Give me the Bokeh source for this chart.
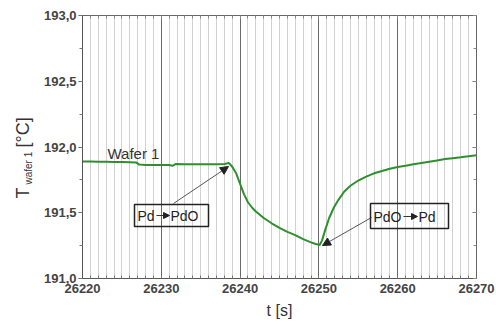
import math
from bokeh.plotting import figure
from bokeh.models import (SingleIntervalTicker, CustomJSTickFormatter, LinearAxis,
                          Label, Arrow, NormalHead, BoxAnnotation)
from bokeh.embed import file_html
from bokeh.resources import INLINE

# ---- data ----
t_s = [26220, 26221, 26222, 26223, 26224, 26225, 26226, 26226.8, 26227.2, 26228,
       26229, 26230, 26231, 26231.4, 26231.8, 26233, 26235, 26237, 26238, 26238.6,
       26239.0, 26239.5, 26240, 26240.5, 26241, 26241.5, 26242, 26243, 26244, 26245,
       26246, 26247, 26248, 26249, 26249.6, 26250.1, 26250.4, 26250.8, 26251.3, 26251.9,
       26252.5, 26253.2, 26254, 26255, 26256, 26257, 26258, 26259, 26260, 26261,
       26262, 26263, 26264, 26265, 26266, 26267, 26268, 26269, 26270]
T_wafer1 = [191.890, 191.890, 191.888, 191.888, 191.886, 191.885, 191.884, 191.883, 191.866, 191.864,
            191.864, 191.864, 191.863, 191.857, 191.870, 191.868, 191.868, 191.868, 191.870, 191.878,
            191.850, 191.800, 191.720, 191.640, 191.580, 191.540, 191.510, 191.460, 191.420, 191.385,
            191.355, 191.330, 191.300, 191.275, 191.262, 191.255, 191.290, 191.370, 191.460, 191.540,
            191.600, 191.660, 191.705, 191.745, 191.775, 191.800, 191.818, 191.835, 191.848, 191.858,
            191.868, 191.878, 191.888, 191.898, 191.908, 191.915, 191.922, 191.930, 191.937]

X0, X1 = 26220, 26270
Y0, Y1 = 191.0, 193.0

# frame geometry (pixels)
FL, FR, FT, FB = 82, 476, 15, 278
def tx(px):
    return X0 + (px - FL) * (X1 - X0) / (FR - FL)
def ty(py):
    return Y0 + (FB - py) * (Y1 - Y0) / (FB - FT)

FONT = "Liberation Sans"
p = figure(width=496, height=327, x_range=(X0, X1), y_range=(Y0, Y1),
           output_backend="svg", toolbar_location=None,
           min_border_left=FL, min_border_right=496 - FR,
           min_border_top=FT, min_border_bottom=327 - FB)
p.outline_line_color = "#666666"
p.background_fill_color = "white"
p.border_fill_color = "white"

xt = SingleIntervalTicker(interval=10, num_minor_ticks=10)
yt = SingleIntervalTicker(interval=0.5, num_minor_ticks=2)
fmt = CustomJSTickFormatter(code="return tick.toFixed(0);")
yfmt = CustomJSTickFormatter(code="return tick.toFixed(1).replace('.', ',');")

xa = p.xaxis[0]
xa.ticker = xt
xa.formatter = fmt
ya = p.yaxis[0]
ya.ticker = yt
ya.formatter = yfmt

for ax in (xa, ya):
    ax.axis_line_color = "#555555"
    ax.major_tick_line_color = "#555555"
    ax.minor_tick_line_color = "#777777"
    ax.major_label_text_font = FONT
    ax.major_label_text_font_size = "13px"
    ax.major_label_text_font_style = "bold"
    ax.major_label_text_color = "#444444"

xa.major_tick_in = 4
xa.major_tick_out = 0
xa.minor_tick_in = 3
xa.minor_tick_out = 0
xa.major_label_standoff = 5
xa.axis_label = "t [s]"
xa.axis_label_text_font = FONT
xa.axis_label_text_font_size = "16px"
xa.axis_label_text_font_style = "normal"
xa.axis_label_text_color = "#333333"
xa.axis_label_standoff = 6

ya.major_tick_out = 4
ya.major_tick_in = 0
ya.minor_tick_out = 3
ya.minor_tick_in = 0
ya.major_label_standoff = 2

# mirrored axes (ticks only)
top = LinearAxis(ticker=xt, major_label_text_color=None, axis_line_color="#666666",
                 major_tick_in=4, major_tick_out=0, minor_tick_in=3, minor_tick_out=0,
                 major_tick_line_color="#777777", minor_tick_line_color="#888888",
                 major_label_text_font_size="1px", major_label_standoff=0)
right = LinearAxis(ticker=yt, major_label_text_color=None, axis_line_color="#666666",
                   major_tick_in=4, major_tick_out=0, minor_tick_in=3, minor_tick_out=0,
                   major_tick_line_color="#777777", minor_tick_line_color="#888888",
                   major_label_text_font_size="1px", major_label_standoff=0)
p.add_layout(top, "above")
p.add_layout(right, "right")

p.xgrid.ticker = xt
p.xgrid.grid_line_color = "#6a6a6a"
p.xgrid.grid_line_width = 1
p.xgrid.minor_grid_line_color = "#d2d2d2"
p.xgrid.minor_grid_line_width = 1
p.ygrid.grid_line_color = None

# curve
p.line(t_s, T_wafer1, line_color="#2f8f2f", line_width=2)

# y-axis label: T_wafer 1 [°C], drawn in two side panels left of the y axis
NB = "\u00a0" * 8
p.add_layout(Label(x=-1.5, y=FB - 184, x_units="screen", y_units="screen",
                   text="wafer 1", angle=math.pi / 2,
                   text_font=FONT, text_font_size="10px", text_color="#333333",
                   text_align="left", text_baseline="alphabetic"), "left")
p.add_layout(Label(x=13, y=FB - 198, x_units="screen", y_units="screen",
                   text="T" + NB + "[°C]", angle=math.pi / 2,
                   text_font=FONT, text_font_size="18px", text_color="#333333",
                   text_align="left", text_baseline="alphabetic"), "left")

# "Wafer 1"
p.add_layout(Label(x=tx(107), y=ty(153), text="Wafer 1", text_font=FONT,
                   text_font_size="15px", text_color="#333333",
                   text_align="left", text_baseline="alphabetic"))

BOX = dict(fill_color=None, line_color="#222222", line_alpha=1.0, line_width=1.5,
           level="overlay")
TXT = dict(text_font=FONT, text_font_size="14px", text_color="#222222",
           text_align="left", text_baseline="middle")

# box 1: Pd -> PdO
p.add_layout(BoxAnnotation(left=tx(134), right=tx(208), top=ty(204), bottom=ty(226), **BOX))
p.add_layout(Label(x=tx(137), y=ty(215), text="Pd", **TXT))
p.add_layout(Label(x=tx(170), y=ty(215), text="PdO", **TXT))
p.add_layout(Arrow(x_start=tx(156), y_start=ty(215), x_end=tx(169), y_end=ty(215),
                   line_color="#333333", line_width=1,
                   end=NormalHead(size=6, fill_color="#222222", line_color="#222222")))

# box 2: PdO -> Pd
p.add_layout(BoxAnnotation(left=tx(370), right=tx(448), top=ty(203), bottom=ty(228), **BOX))
p.add_layout(Label(x=tx(373), y=ty(216), text="PdO", **TXT))
p.add_layout(Label(x=tx(418), y=ty(216), text="Pd", **TXT))
p.add_layout(Arrow(x_start=tx(403), y_start=ty(216), x_end=tx(417), y_end=ty(216),
                   line_color="#333333", line_width=1,
                   end=NormalHead(size=6, fill_color="#222222", line_color="#222222")))

# pointer arrows
p.add_layout(Arrow(x_start=tx(173), y_start=ty(203), x_end=tx(228), y_end=ty(166),
                   line_color="#555555", line_width=1,
                   end=NormalHead(size=8, fill_color="#222222", line_color="#222222")))
p.add_layout(Arrow(x_start=tx(371), y_start=ty(217), x_end=tx(322), y_end=ty(245),
                   line_color="#555555", line_width=1,
                   end=NormalHead(size=8, fill_color="#222222", line_color="#222222")))

open("out.html", "w").write(file_html(p, INLINE))
